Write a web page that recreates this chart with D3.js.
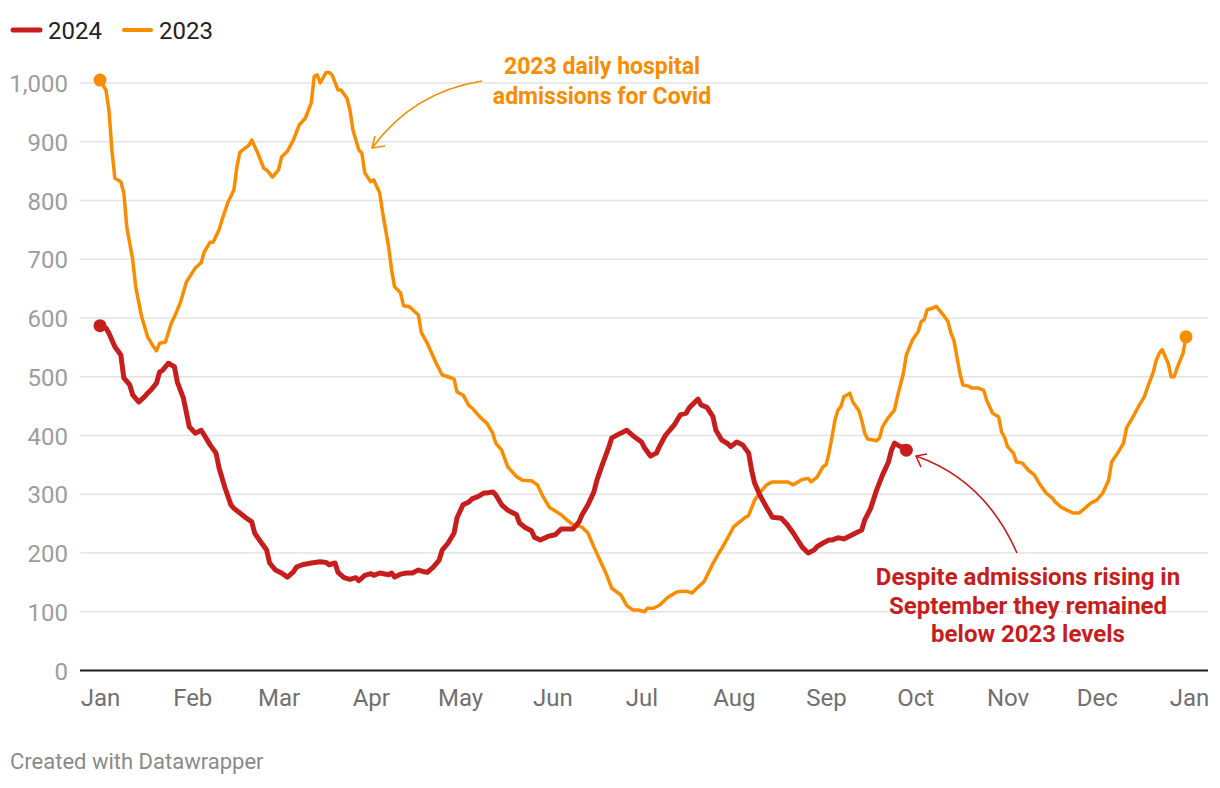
<!DOCTYPE html>
<html><head><meta charset="utf-8">
<script src="https://cdn.jsdelivr.net/npm/d3@7"></script>
<style>
body{margin:0;background:#fff;}
svg{font-family:Roboto,"Noto Sans",sans-serif;display:block;}
</style></head><body>
<svg id="chart" width="1220" height="788"></svg>
<script>
// ---------- data ----------
const seriesNames = ["2024", "2023"];
const monthLabels = ["Jan","Feb","Mar","Apr","May","Jun","Jul","Aug","Sep","Oct","Nov","Dec","Jan"];
const yTickValues = [0,100,200,300,400,500,600,700,800,900,1000];

// day of year (0 = 1 Jan) and 7-day average daily admissions
const days2024 = [0,2,3,5,7,8,10,11,13,15,16,17,19,20,21,23,25,26,28,29,30,32,34,35,37,39,40,42,44,45,47,49,51,52,54,56,57,59,61,63,65,66,68,71,74,76,77,79,80,82,84,86,87,89,91,92,94,97,98,99,101,103,105,107,109,110,112,114,115,117,119,120,122,124,125,127,129,130,132,133,135,137,140,141,143,145,146,148,150,151,153,155,157,159,161,162,164,166,167,169,171,172,175,177,179,182,183,185,187,188,190,192,193,195,197,198,200,201,202,204,206,207,209,211,212,214,216,218,219,220,222,224,226,229,231,233,234,236,238,240,241,243,245,246,248,250,252,254,256,257,259,261,263,265,266,267,269,270,271];
const values2024 = [587,583,574,551,537,498,486,469,457,466,472,477,489,508,511,523,517,491,464,440,415,404,409,401,384,370,345,311,282,276,268,260,253,234,219,205,183,171,166,159,168,176,180,183,185,184,180,183,167,158,155,158,153,162,165,162,166,163,166,159,164,166,166,171,168,167,176,188,205,217,234,260,282,287,292,296,302,302,304,299,282,273,265,251,243,238,227,222,227,229,231,241,241,241,253,265,282,304,324,353,380,396,404,409,400,389,379,365,370,381,400,412,418,435,438,447,457,462,452,448,432,409,392,386,381,389,384,370,341,319,296,278,261,259,248,234,226,210,200,205,211,217,222,222,226,224,229,234,239,256,276,307,333,355,375,387,381,381,375];

const days2023 = [0,2,3,4,5,7,8,9,11,12,14,16,18,19,20,22,24,25,27,29,32,34,35,37,38,40,41,43,45,46,47,48,50,51,53,55,56,58,60,61,63,65,67,69,71,72,73,74,76,77,78,80,81,83,84,85,87,88,89,91,92,94,95,97,98,99,101,102,104,107,108,110,112,113,115,117,119,120,122,124,125,128,130,132,133,135,137,140,142,145,147,149,151,155,157,159,162,164,166,168,170,172,175,177,179,181,183,184,186,188,191,194,197,199,201,203,206,208,209,211,213,215,217,218,220,222,224,226,229,231,233,234,236,238,239,241,243,244,245,246,247,248,249,250,252,253,255,256,257,258,261,262,263,265,267,268,270,271,273,275,276,277,278,280,281,282,283,285,286,287,288,289,290,292,293,295,297,298,299,300,302,303,304,305,307,308,310,312,314,316,318,320,321,323,325,327,329,331,333,335,337,339,340,342,344,345,347,349,351,352,354,355,356,357,359,360,361,362,364,365];
const values2023 = [1005,988,954,886,838,832,813,755,699,653,602,568,551,544,557,559,592,602,626,661,685,694,712,729,729,750,767,797,818,857,882,886,894,903,881,855,852,840,852,874,884,903,929,940,966,1011,1014,1000,1018,1018,1014,988,988,974,954,920,886,881,847,832,835,813,779,721,682,653,643,621,619,605,575,557,534,523,503,500,496,474,469,451,447,430,421,404,387,375,347,330,324,323,316,295,278,265,256,248,244,234,210,188,166,140,129,111,103,103,100,106,106,111,125,134,135,132,142,151,182,200,208,226,245,253,261,264,290,304,316,321,321,321,316,319,325,327,321,329,347,350,370,397,426,443,449,466,472,457,443,426,404,394,391,396,415,431,443,466,506,537,562,577,594,597,614,617,620,614,608,594,574,562,534,506,486,484,481,481,477,460,449,438,432,406,397,381,370,355,353,341,333,316,302,294,287,278,273,268,268,276,285,290,302,324,355,370,387,413,430,449,466,481,508,528,540,546,523,500,500,515,540,568];

const noteOrange = ["2023 daily hospital", "admissions for Covid"];
const noteRed = ["Despite admissions rising in", "September they remained", "below 2023 levels"];
const footerText = "Created with Datawrapper";

// ---------- styles ----------
const RED = "#c71e1d", ORANGE = "#fa8c00";

const svg = d3.select("#chart");
const start = new Date(2024, 0, 1), end = new Date(2025, 0, 1);
const x = d3.scaleTime().domain([start, end]).range([100, 1189]);
const y = d3.scaleLinear().domain([0, 1000]).range([670.5, 83]);
const dayDate = d => d3.timeDay.offset(start, d);

const s2024 = days2024.map((d, i) => ({date: dayDate(d), value: values2024[i]}));
const s2023 = days2023.map((d, i) => ({date: dayDate(d), value: values2023[i]}));

// gridlines + y labels
const yAxis = d3.axisLeft(y).tickValues(yTickValues).tickSize(0).tickFormat(d3.format(","));
const gy = svg.append("g").attr("transform", "translate(68,0)").call(yAxis);
gy.select(".domain").remove();
gy.selectAll("text").attr("x", 0).attr("dy", "0.36em")
  .attr("font-size", 24).attr("fill", "#9d9d9d").attr("font-family", "Roboto");

svg.append("g").selectAll("line").data(yTickValues.filter(v => v > 0)).join("line")
  .attr("x1", 80).attr("x2", 1208)
  .attr("y1", d => y(d)).attr("y2", d => y(d))
  .attr("stroke", "#e3e3e3").attr("stroke-width", 1.6);

// x axis
const monthTicks = d3.timeMonth.range(start, d3.timeDay.offset(end, 1));
const xAxis = d3.axisBottom(x).tickValues(monthTicks).tickSize(0)
  .tickFormat((d, i) => monthLabels[i]);
const gx = svg.append("g").attr("transform", `translate(0,${y(0)})`).call(xAxis);
gx.select(".domain").remove();
gx.selectAll("text").attr("y", 35).attr("dy", 0)
  .attr("font-size", 24).attr("fill", "#707070").attr("font-family", "Roboto");
svg.append("line").attr("x1", 80).attr("x2", 1208)
  .attr("y1", y(0)).attr("y2", y(0)).attr("stroke", "#1d1d1d").attr("stroke-width", 2);

// lines
const line = d3.line().x(d => x(d.date)).y(d => y(d.value)).curve(d3.curveLinear);
svg.append("path").datum(s2023).attr("d", line).attr("fill", "none")
  .attr("stroke", ORANGE).attr("stroke-width", 3.5).attr("stroke-linejoin", "round").attr("stroke-linecap", "round");
svg.append("path").datum(s2024).attr("d", line).attr("fill", "none")
  .attr("stroke", RED).attr("stroke-width", 5).attr("stroke-linejoin", "round").attr("stroke-linecap", "round");

// end dots
const dots = [
  {d: s2023[0], c: ORANGE}, {d: s2023[s2023.length - 1], c: ORANGE},
  {d: s2024[0], c: RED}, {d: s2024[s2024.length - 1], c: RED}
];
svg.append("g").selectAll("circle").data(dots).join("circle")
  .attr("cx", o => x(o.d.date)).attr("cy", o => y(o.d.value)).attr("r", 6.5).attr("fill", o => o.c);

// legend
const legend = svg.append("g");
const legItems = [{name: seriesNames[0], c: RED, w: 5, x0: 13}, {name: seriesNames[1], c: ORANGE, w: 4, x0: 124}];
legItems.forEach(it => {
  legend.append("line").attr("x1", it.x0).attr("x2", it.x0 + 27).attr("y1", 30).attr("y2", 30)
    .attr("stroke", it.c).attr("stroke-width", it.w).attr("stroke-linecap", "round");
  legend.append("text").attr("x", it.x0 + 35).attr("y", 38.5).text(it.name)
    .attr("font-size", 24).attr("fill", "#222");
});

// annotations
const tOrange = svg.append("text").attr("text-anchor", "middle").attr("font-size", 23)
  .attr("font-weight", "bold").attr("fill", ORANGE);
noteOrange.forEach((t, i) => tOrange.append("tspan").attr("x", 602).attr("y", 74 + i * 30).text(t));
svg.append("path").attr("d", "M482,81 Q413,92 372,148").attr("fill", "none")
  .attr("stroke", ORANGE).attr("stroke-width", 1.6);
svg.append("path").attr("d", "M375,136 L372,148 L385,146").attr("fill", "none")
  .attr("stroke", ORANGE).attr("stroke-width", 1.6).attr("stroke-linejoin", "round");

const tRed = svg.append("text").attr("text-anchor", "middle").attr("font-size", 24)
  .attr("font-weight", "bold").attr("fill", RED);
noteRed.forEach((t, i) => tRed.append("tspan").attr("x", 1028).attr("y", 585 + i * 28.5).text(t));
svg.append("path").attr("d", "M1017,553 Q985,480 916,456").attr("fill", "none")
  .attr("stroke", RED).attr("stroke-width", 1.6);
svg.append("path").attr("d", "M927,454 L916,456 L921,467").attr("fill", "none")
  .attr("stroke", RED).attr("stroke-width", 1.6).attr("stroke-linejoin", "round");

// footer
svg.append("text").attr("x", 10).attr("y", 769).text(footerText)
  .attr("font-size", 22).attr("fill", "#8a8a8a");
</script>
</body></html>
